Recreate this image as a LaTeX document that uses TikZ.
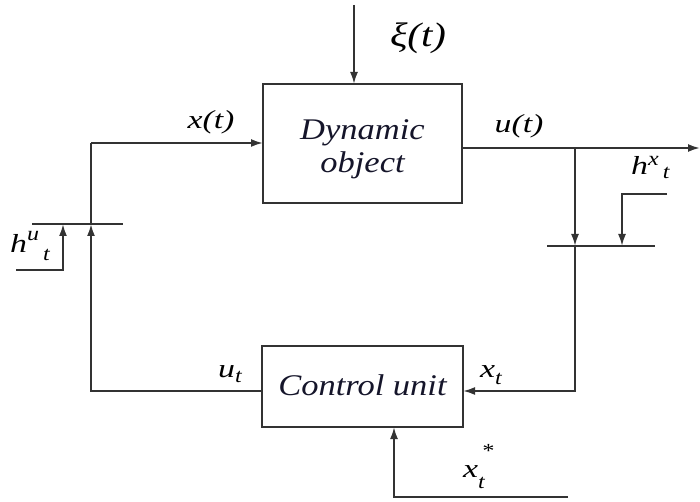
\documentclass[tikz,border=0pt]{standalone}
\usepackage{fontspec}
\usepackage{graphicx}
\setmainfont{Liberation Serif}
\usetikzlibrary{arrows.meta}
\definecolor{ln}{HTML}{333333}
\definecolor{tx}{HTML}{15152A}
\newcommand{\widetxt}[2][1.3]{\scalebox{#1}[1]{#2}}
\newcommand{\sbs}[1]{\scalebox{1.2}[1]{\fontsize{20}{21}\selectfont #1}}
\tikzset{
  wire/.style={draw=ln, line width=2pt},
  arr/.style={wire, -{Latex[length=12pt,width=8pt]}},
  blk/.style={draw=ln, line width=2pt, inner sep=0pt},
  blktxt/.style={font=\itshape\fontsize{30}{33}\selectfont, text=tx, align=center, inner sep=0pt},
  lbl/.style={font=\itshape\fontsize{26}{28}\selectfont, text=black, inner sep=0pt}
}
\begin{document}
\begin{tikzpicture}[x=1pt,y=-1pt]
\useasboundingbox (0,0) rectangle (700,502);
% blocks
\node[blk, minimum width=199pt, minimum height=119pt] (dyn) at (362.5,143.5) {};
\node[blktxt] (dyntxt) at ([yshift=-6pt]dyn.center) {\widetxt[1.15]{Dynamic}\\\widetxt[1.15]{object}};
\node[blk, minimum width=201pt, minimum height=81pt] (cu) at (362.5,386.5) {};
\node[blktxt] (cutxt) at ([yshift=1pt]cu.center) {\widetxt[1.15]{Control unit}};
% coordinates
\coordinate (xitop) at (354,5);
\coordinate (xin) at (354,84);
\coordinate (lc) at (91,143);
\coordinate (xtin) at (263,143);
\coordinate (uout) at (462,148);
\coordinate (uend) at (700,148);
\coordinate (br) at (575,148);
\coordinate (rbarl) at (547,246);
\coordinate (rbarr) at (655,246);
\coordinate (rbarc) at (575,246);
\coordinate (rbot) at (575,391);
\coordinate (cuin) at (463,391);
\coordinate (hxa) at (667,194);
\coordinate (hxb) at (622,194);
\coordinate (hxc) at (622,246);
\coordinate (lbarl) at (32,224);
\coordinate (lbarr) at (123,224);
\coordinate (lbarc) at (91,224);
\coordinate (lbot) at (91,391);
\coordinate (cuout) at (262,391);
\coordinate (hua) at (16,270);
\coordinate (hub) at (63,270);
\coordinate (huc) at (63,224);
\coordinate (xsa) at (568,497);
\coordinate (xsb) at (394,497);
\coordinate (xsc) at (394,427);
% connectors
\draw[arr] (xitop) -- (xin);
\draw[arr] (lc) -- (xtin);
\draw[arr] (uout) -- (uend);
\draw[arr] (br) -- (rbarc);
\draw[wire] (rbarl) -- (rbarr);
\draw[arr] (hxa) -- (hxb) -- (hxc);
\draw[arr] (rbarc) -- (rbot) -- (cuin);
\draw[wire] (lbarl) -- (lbarr);
\draw[arr] (cuout) -- (lbot) -- (lbarc);
\draw[wire] (lbarc) -- (lc);
\draw[arr] (hua) -- (hub) -- (huc);
\draw[arr] (xsa) -- (xsb) -- (xsc);
% labels
\node[lbl, font=\itshape\fontsize{34}{36}\selectfont] (lxi) at (418,38) {\widetxt[1.2]{ξ(t)}};
\node[lbl] (lx) at (211,122) {\widetxt{x(t)}};
\node[lbl] (lu) at (519,126) {\widetxt{u(t)}};
\node[lbl, anchor=base west] (lhx) at (631,175) {\widetxt{h}\raisebox{9pt}{\sbs{x}}\raisebox{-4pt}{\sbs{\,t}}};
\node[lbl, anchor=base west] (lhu) at (10,253) {\widetxt{h}\raisebox{13pt}{\sbs{u}}\raisebox{-7pt}{\sbs{\,t}}};
\node[lbl, anchor=base west] (lut) at (218,377) {\widetxt{u}\raisebox{-5pt}{\sbs{t}}};
\node[lbl, anchor=base west] (lxt) at (480,377) {\widetxt{x}\raisebox{-7pt}{\sbs{t}}};
\node[lbl, anchor=base west] (lxs) at (463,477) {\widetxt{x}\raisebox{-11pt}{\sbs{t}}\raisebox{20pt}{\sbs{\kern-3pt *}}};
\end{tikzpicture}
\end{document}
